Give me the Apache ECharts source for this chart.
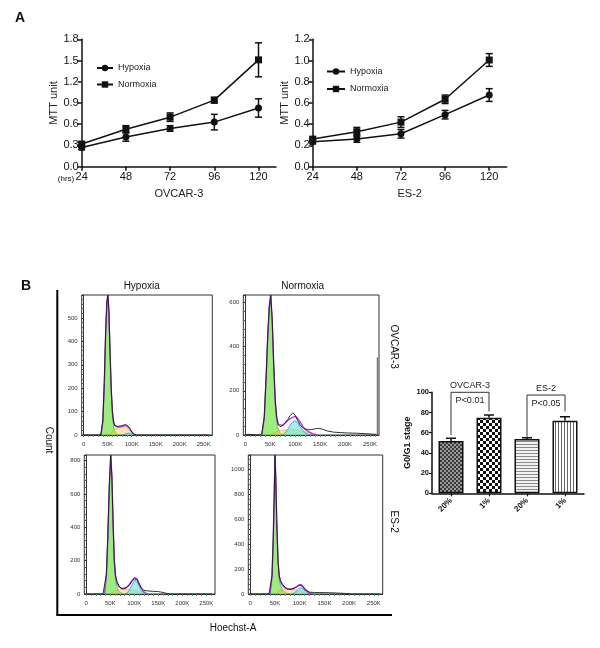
<!DOCTYPE html>
<html><head><meta charset="utf-8">
<script src="https://cdn.jsdelivr.net/npm/echarts@6/dist/echarts.min.js"></script>
<style>html,body{margin:0;padding:0;background:#fff}#c{width:600px;height:648px}</style>
</head><body><div id="c"></div>
<script>
// ---------- Panel A data ----------
const hours = [24, 48, 72, 96, 120];
const ovHypMean = [0.27, 0.42, 0.54, 0.63, 0.83];
const ovHypErr  = [0.03, 0.06, 0.04, 0.11, 0.13];
const ovNorMean = [0.32, 0.53, 0.70, 0.94, 1.51];
const ovNorErr  = [0.03, 0.05, 0.06, 0.04, 0.24];
const esHypMean = [0.235, 0.26, 0.31, 0.49, 0.675];
const esHypErr  = [0.02, 0.03, 0.04, 0.04, 0.06];
const esNorMean = [0.26, 0.33, 0.42, 0.635, 1.005];
const esNorErr  = [0.02, 0.04, 0.05, 0.04, 0.06];
const legendNames = ['Hypoxia', 'Normoxia'];

// ---------- Panel B histograms (Hoechst-A, count) ----------
const histTickLabels = [0, 50000, 100000, 150000, 200000, 250000];
// OVCAR-3 hypoxia
const tlData = [[0,0],[30000,0],[36000,3],[40000,60],[43000,220],[46000,450],[48500,570],[50500,598],[52500,540],[55000,360],[57500,200],[60000,100],[62500,55],[65000,40],[70000,37],[75000,38],[80000,40],[85000,44],[90000,43],[95000,32],[100000,14],[105000,4],[110000,0],[262000,0]];
const tlG1 = [[36000,0],[40000,55],[43000,215],[46000,445],[48500,565],[50500,596],[52500,530],[55000,350],[57500,185],[60000,85],[62500,38],[65000,15],[70000,3],[75000,0]];
const tlS = [[52000,0],[57000,8],[62000,18],[67000,26],[72000,31],[78000,34],[84000,34],[90000,30],[95000,22],[100000,10],[106000,0]];
const tlG2 = [[80000,0],[88000,5],[95000,8],[102000,4],[108000,0]];
const tlFit = [[36000,0],[40000,57],[43000,218],[46000,448],[48500,568],[50500,598],[52500,535],[55000,358],[57500,195],[60000,97],[62500,56],[65000,41],[70000,34],[75000,34],[80000,36],[85000,40],[90000,38],[95000,30],[100000,14],[106000,0]];
// OVCAR-3 normoxia
const trData = [[0,0],[5000,3],[15000,2],[28000,0],[33000,5],[38000,80],[42000,280],[45000,450],[48000,580],[51000,633],[54000,520],[57000,320],[60000,160],[63000,80],[66000,48],[70000,38],[75000,42],[80000,55],[85000,70],[90000,88],[95000,100],[100000,90],[105000,65],[110000,45],[115000,33],[120000,27],[125000,25],[130000,24],[140000,28],[147000,30],[155000,26],[165000,18],[177000,13],[190000,11],[205000,9],[223000,8],[240000,6],[255000,4],[263000,3]];
const trG1 = [[33000,0],[38000,75],[42000,270],[45000,440],[48000,570],[51000,625],[54000,510],[57000,305],[60000,140],[63000,60],[66000,25],[70000,8],[75000,0]];
const trS = [[50000,0],[58000,10],[65000,18],[75000,22],[85000,24],[95000,24],[105000,22],[115000,18],[125000,12],[135000,6],[145000,0]];
const trG2 = [[75000,0],[80000,10],[85000,25],[90000,45],[95000,60],[100000,65],[105000,55],[110000,38],[115000,22],[120000,10],[127000,3],[135000,0]];
const trFit = [[33000,0],[38000,77],[42000,272],[45000,445],[48000,575],[51000,633],[54000,515],[57000,315],[60000,152],[63000,75],[66000,47],[70000,40],[75000,44],[80000,54],[85000,65],[90000,74],[95000,80],[100000,84],[105000,75],[110000,58],[115000,40],[120000,25],[127000,15],[135000,6],[145000,0]];
const trSpike = [[265000,0],[265000,350]];
// ES-2 hypoxia
const blData = [[0,0],[35000,0],[39000,10],[42000,120],[45000,350],[48000,650],[51000,834],[53500,700],[56000,420],[58500,200],[61000,110],[64000,75],[68000,50],[72000,35],[76000,30],[80000,33],[85000,40],[90000,55],[95000,75],[100000,92],[103000,95],[106000,85],[110000,60],[115000,35],[120000,22],[130000,18],[140000,16],[148000,15],[155000,12],[162000,8],[168000,3],[175000,0],[262000,0]];
const blG1 = [[38000,0],[42000,110],[45000,340],[48000,640],[51000,825],[53500,690],[56000,400],[58500,180],[61000,85],[64000,40],[68000,15],[72000,5],[78000,0]];
const blS = [[50000,0],[56000,12],[62000,22],[70000,26],[80000,27],[90000,26],[100000,22],[110000,15],[118000,6],[125000,0]];
const blG2 = [[82000,0],[88000,15],[93000,40],[98000,70],[102000,85],[106000,75],[110000,50],[114000,25],[118000,10],[124000,0]];
const blFit = [[38000,0],[42000,112],[45000,343],[48000,645],[51000,834],[53500,700],[56000,415],[58500,195],[61000,105],[64000,65],[68000,42],[72000,32],[76000,30],[80000,33],[85000,42],[90000,58],[95000,80],[100000,98],[103000,100],[106000,90],[110000,63],[114000,38],[118000,18],[124000,5],[128000,0]];
// ES-2 normoxia
const brData = [[0,0],[38000,0],[41000,10],[44000,150],[46500,450],[48500,800],[50000,1117],[51500,950],[53500,600],[56000,280],[58500,150],[61000,110],[65000,80],[70000,55],[75000,42],[80000,38],[85000,40],[90000,48],[95000,60],[100000,72],[103000,73],[106000,60],[110000,38],[114000,22],[120000,15],[130000,12],[145000,11],[160000,10],[175000,8],[190000,5],[200000,2],[205000,0],[262000,0]];
const brG1 = [[40000,0],[44000,140],[46500,440],[48500,790],[50000,1100],[51500,930],[53500,580],[56000,260],[58500,120],[61000,70],[65000,35],[70000,15],[75000,5],[80000,0]];
const brS = [[50000,0],[56000,15],[62000,28],[70000,35],[80000,36],[90000,33],[100000,25],[108000,15],[115000,6],[122000,0]];
const brG2 = [[85000,0],[90000,12],[95000,30],[99000,48],[102000,55],[105000,48],[109000,30],[113000,15],[118000,5],[123000,0]];
const brFit = [[40000,0],[44000,142],[46500,445],[48500,795],[50000,1110],[51500,940],[53500,595],[56000,275],[58500,145],[61000,100],[65000,70],[70000,50],[75000,42],[80000,38],[85000,42],[90000,48],[95000,62],[100000,76],[102000,78],[105000,70],[109000,48],[113000,28],[118000,12],[124000,3],[128000,0]];

// ---------- Panel B bar chart ----------
const groups = ['20%', '1%', '20%', '1%'];
const g0g1 = [51.8, 74.9, 53.8, 71.9];
const g0g1Err = [2.7, 2.6, 1.2, 3.9];
const bracketTitles = ['OVCAR-3', 'ES-2'];
const pValues = ['P<0.01', 'P<0.05'];
const bracketData = [[0, 1, 100, 57.5, 81], [2, 3, 97.3, 56, 81]];

// ---------- helpers ----------
const FONT = '"Liberation Sans", Arial, sans-serif';
function errRender(params, api) {
  const x = api.value(0), lo = api.value(1), hi = api.value(2);
  const p1 = api.coord([x, lo]), p2 = api.coord([x, hi]);
  const w = 3.5, st = {stroke: '#111', lineWidth: 1.5};
  return {type: 'group', children: [
    {type: 'line', shape: {x1: p1[0], y1: p1[1], x2: p2[0], y2: p2[1]}, style: st},
    {type: 'line', shape: {x1: p1[0]-w, y1: p1[1], x2: p1[0]+w, y2: p1[1]}, style: st},
    {type: 'line', shape: {x1: p2[0]-w, y1: p2[1], x2: p2[0]+w, y2: p2[1]}, style: st}
  ]};
}
function barErrRender(params, api) {
  const x = api.value(0), lo = api.value(1), hi = api.value(2);
  const p1 = api.coord([x, lo]), p2 = api.coord([x, hi]);
  const w = 5, st = {stroke: '#111', lineWidth: 1.5};
  return {type: 'group', children: [
    {type: 'line', shape: {x1: p1[0], y1: p1[1], x2: p2[0], y2: p2[1]}, style: st},
    {type: 'line', shape: {x1: p2[0]-w, y1: p2[1], x2: p2[0]+w, y2: p2[1]}, style: st}
  ]};
}
function bracketRender(params, api) {
  const a = api.value(0), b = api.value(1), top = api.value(2), lb = api.value(3), rb = api.value(4);
  const pa = api.coord([a, top]), pb = api.coord([b, top]);
  const pal = api.coord([a, lb]), pbr = api.coord([b, rb]);
  const st = {stroke: '#333', lineWidth: 1};
  const cx = (pa[0] + pb[0]) / 2;
  return {type: 'group', children: [
    {type: 'polyline', shape: {points: [[pal[0], pal[1]], [pa[0], pa[1]], [pb[0], pb[1]], [pbr[0], pbr[1]]]}, style: Object.assign({fill: null}, st)},
    {type: 'text', x: cx, y: pa[1] - 2, style: {text: bracketTitles[params.dataIndex], textAlign: 'center', textVerticalAlign: 'bottom', font: '9px ' + FONT, fill: '#222'}},
    {type: 'text', x: cx, y: pa[1] + 4, style: {text: pValues[params.dataIndex], textAlign: 'center', textVerticalAlign: 'top', font: '9px ' + FONT, fill: '#222'}}
  ]};
}
function makePattern(kind) {
  const c = document.createElement('canvas');
  const ctx = c.getContext('2d');
  if (kind === 0) { c.width = 4; c.height = 4; ctx.fillStyle = '#9a9a9a'; ctx.fillRect(0,0,4,4); ctx.fillStyle = '#3a3a3a'; ctx.fillRect(0,0,2,2); ctx.fillRect(2,2,2,2); }
  else if (kind === 1) { c.width = 6; c.height = 6; ctx.fillStyle = '#fff'; ctx.fillRect(0,0,6,6); ctx.fillStyle = '#111'; ctx.fillRect(0,0,3,3); ctx.fillRect(3,3,3,3); }
  else if (kind === 2) { c.width = 3; c.height = 3; ctx.fillStyle = '#f2f2f2'; ctx.fillRect(0,0,3,3); ctx.fillStyle = '#8a8a8a'; ctx.fillRect(0,0,3,1); }
  else { c.width = 3; c.height = 3; ctx.fillStyle = '#fff'; ctx.fillRect(0,0,3,3); ctx.fillStyle = '#666'; ctx.fillRect(0,0,1,3); }
  return {image: c, repeat: 'repeat'};
}
const histTicks = [];
for (let v = 0; v <= 260000; v += 10000) histTicks.push(v);

function histX(gi) {
  return {type: 'value', gridIndex: gi, min: -4000, max: 268000,
    axisLine: {show: true, onZero: false, lineStyle: {color: '#333', width: 1}},
    axisTick: {show: true, customValues: histTicks, length: 2, lineStyle: {color: '#3a6'}},
    axisLabel: {customValues: histTickLabels, fontSize: 6, color: '#333', margin: 6, fontFamily: FONT,
      formatter: v => v === 0 ? '0' : (v / 1000) + 'K'},
    splitLine: {show: false}};
}
function histY(gi, max, interval) {
  return {type: 'value', gridIndex: gi, min: 0, max: max, interval: interval,
    axisLine: {show: true, lineStyle: {color: '#333', width: 1}},
    axisTick: {show: true, length: 2, lineStyle: {color: '#333'}},
    minorTick: {show: true, splitNumber: 5, length: 1.5, lineStyle: {color: '#555'}},
    axisLabel: {fontSize: 6, color: '#333', margin: 4, fontFamily: FONT, showMaxLabel: false, formatter: v => String(v)},
    splitLine: {show: false}};
}
function histSeries(gi, data, g1, s, g2, fit) {
  const base = {type: 'line', xAxisIndex: gi, yAxisIndex: gi, showSymbol: false, symbol: 'none', animation: false, silent: true};
  return [
    Object.assign({}, base, {data: g1, lineStyle: {width: 0.6, color: '#2f9a20'}, areaStyle: {color: 'rgba(100,225,50,0.9)'}, z: 2}),
    Object.assign({}, base, {data: s, lineStyle: {width: 0.5, color: '#c89a40'}, areaStyle: {color: 'rgba(240,190,80,0.6)'}, z: 3}),
    Object.assign({}, base, {data: g2, lineStyle: {width: 0.7, color: '#3a7ae0'}, areaStyle: {color: 'rgba(100,230,215,0.85)'}, z: 4}),
    Object.assign({}, base, {data: fit, lineStyle: {width: 1.4, color: '#b040e8'}, z: 5}),
    Object.assign({}, base, {data: data, lineStyle: {width: 0.9, color: '#1a1a1a'}, z: 6})
  ];
}
function aX(gi) {
  return {type: 'value', gridIndex: gi, min: 24, max: 129.5, interval: 24,
    name: gi === 0 ? 'OVCAR-3' : 'ES-2', nameLocation: 'middle', nameGap: 22,
    nameTextStyle: {fontSize: 11, color: '#222', fontFamily: FONT},
    axisLine: {show: true, onZero: false, lineStyle: {color: '#111', width: 1.5}},
    axisTick: {show: true, length: 4, lineStyle: {color: '#111', width: 1.5}},
    axisLabel: {fontSize: 11, color: '#111', margin: 5, fontFamily: FONT, showMaxLabel: false},
    splitLine: {show: false}};
}
function aY(gi, max, interval) {
  return {type: 'value', gridIndex: gi, min: 0, max: max, interval: interval,
    name: 'MTT unit', nameLocation: 'middle', nameGap: 19,
    nameTextStyle: {fontSize: 11, color: '#222', fontFamily: FONT},
    axisLine: {show: true, lineStyle: {color: '#111', width: 1.5}},
    axisTick: {show: true, length: 4, lineStyle: {color: '#111', width: 1.5}},
    axisLabel: {fontSize: 11, color: '#111', margin: 3, fontFamily: FONT, formatter: v => v.toFixed(1)},
    splitLine: {show: false}};
}
function aSeries(gi, hypM, hypE, norM, norE) {
  const common = {type: 'line', xAxisIndex: gi, yAxisIndex: gi, animation: false, symbolSize: 7,
    lineStyle: {color: '#111', width: 1.5}, itemStyle: {color: '#111'}};
  const err = (m, e) => hours.map((h, i) => [h, m[i] - e[i], m[i] + e[i]]);
  return [
    Object.assign({}, common, {name: 'Hypoxia', symbol: 'circle', data: hours.map((h, i) => [h, hypM[i]])}),
    Object.assign({}, common, {name: 'Normoxia', symbol: 'rect', data: hours.map((h, i) => [h, norM[i]])}),
    {type: 'custom', xAxisIndex: gi, yAxisIndex: gi, renderItem: errRender, data: err(hypM, hypE), encode: {x: 0, y: [1, 2]}, z: 3, animation: false},
    {type: 'custom', xAxisIndex: gi, yAxisIndex: gi, renderItem: errRender, data: err(norM, norE), encode: {x: 0, y: [1, 2]}, z: 3, animation: false}
  ];
}

const chart = echarts.init(document.getElementById('c'), null, {renderer: 'canvas'});
const textStyle = (t, x, y, size, opts) => Object.assign({type: 'text', x: x, y: y,
  style: {text: t, font: (opts && opts.bold ? 'bold ' : '') + size + 'px ' + FONT, fill: '#111', textAlign: 'center', textVerticalAlign: 'middle'}},
  opts && opts.rotation !== undefined ? {rotation: opts.rotation} : {});

const option = {
  animation: false,
  backgroundColor: '#fff',
  textStyle: {fontFamily: FONT},
  grid: [
    {left: 81.7, top: 39.3, width: 194.3, height: 127.4},
    {left: 312.7, top: 39.3, width: 194, height: 127.4},
    {left: 81.7, top: 295, width: 130.6, height: 140, show: true, borderColor: '#333', borderWidth: 1},
    {left: 243.3, top: 295, width: 135.7, height: 140, show: true, borderColor: '#333', borderWidth: 1},
    {left: 84.3, top: 455, width: 130.7, height: 139, show: true, borderColor: '#333', borderWidth: 1},
    {left: 248.3, top: 455, width: 134.4, height: 139, show: true, borderColor: '#333', borderWidth: 1},
    {left: 432, top: 392.3, width: 152, height: 101}
  ],
  legend: [
    {data: legendNames, left: 91, top: 58.5, orient: 'vertical', itemWidth: 16, itemHeight: 8, itemGap: 7.5,
      textStyle: {fontSize: 9, color: '#222', fontFamily: FONT}, selectedMode: false},
    {data: legendNames, left: 321, top: 62, orient: 'vertical', itemWidth: 18, itemHeight: 8, itemGap: 8.5,
      textStyle: {fontSize: 9, color: '#222', fontFamily: FONT}, selectedMode: false}
  ],
  xAxis: [aX(0), aX(1), histX(2), histX(3), histX(4), histX(5),
    {type: 'category', gridIndex: 6, data: groups,
      axisLine: {show: true, lineStyle: {color: '#111', width: 1.5}},
      axisTick: {show: true, alignWithLabel: true, length: 3, lineStyle: {color: '#111', width: 1.2}},
      axisLabel: {rotate: 45, fontSize: 8, fontWeight: 'bold', color: '#111', margin: 6, fontFamily: FONT}}],
  yAxis: [aY(0, 1.8, 0.3), aY(1, 1.2, 0.2), histY(2, 598, 100), histY(3, 633, 200), histY(4, 834, 200), histY(5, 1117, 200),
    {type: 'value', gridIndex: 6, min: 0, max: 100, interval: 20,
      name: 'G0/G1 stage', nameLocation: 'middle', nameGap: 20,
      nameTextStyle: {fontSize: 9, fontWeight: 'bold', color: '#111', fontFamily: FONT},
      axisLine: {show: true, lineStyle: {color: '#111', width: 1.5}},
      axisTick: {show: true, length: 3, lineStyle: {color: '#111', width: 1.2}},
      axisLabel: {fontSize: 7.5, fontWeight: 'bold', color: '#111', margin: 3, fontFamily: FONT},
      splitLine: {show: false}}],
  series: [].concat(
    aSeries(0, ovHypMean, ovHypErr, ovNorMean, ovNorErr),
    aSeries(1, esHypMean, esHypErr, esNorMean, esNorErr),
    histSeries(2, tlData, tlG1, tlS, tlG2, tlFit),
    histSeries(3, trData, trG1, trS, trG2, trFit),
    [{type: 'line', xAxisIndex: 3, yAxisIndex: 3, data: trSpike, showSymbol: false, symbol: 'none', lineStyle: {width: 1.5, color: '#777'}, z: 6}],
    histSeries(4, blData, blG1, blS, blG2, blFit),
    histSeries(5, brData, brG1, brS, brG2, brFit),
    [{type: 'bar', xAxisIndex: 6, yAxisIndex: 6, barWidth: 25,
      data: g0g1.map((v, i) => ({value: v, itemStyle: {color: makePattern(i), borderColor: '#111', borderWidth: 1.5}}))},
     {type: 'custom', xAxisIndex: 6, yAxisIndex: 6, renderItem: barErrRender, z: 1,
      data: g0g1.map((v, i) => [i, v, v + g0g1Err[i]]), encode: {x: 0, y: [1, 2]}},
     {type: 'custom', xAxisIndex: 6, yAxisIndex: 6, renderItem: bracketRender, z: 5,
      data: bracketData, encode: {x: [0, 1], y: [2, 3, 4]}}]
  ),
  graphic: [
    textStyle('A', 20, 18, 14, {bold: true}),
    textStyle('B', 26, 286, 14, {bold: true}),
    textStyle('(hrs)', 66, 178.5, 8),
    textStyle('Hypoxia', 141.7, 286.5, 10),
    textStyle('Normoxia', 302.7, 286.5, 10),
    textStyle('OVCAR-3', 393.5, 346.7, 10, {rotation: -Math.PI / 2}),
    textStyle('ES-2', 393.5, 521.7, 10, {rotation: -Math.PI / 2}),
    textStyle('Count', 49, 440, 10, {rotation: -Math.PI / 2}),
    textStyle('Hoechst-A', 233, 628, 10),
    {type: 'line', shape: {x1: 57.3, y1: 290, x2: 57.3, y2: 615}, style: {stroke: '#000', lineWidth: 2}},
    {type: 'line', shape: {x1: 56.3, y1: 615, x2: 392, y2: 615}, style: {stroke: '#000', lineWidth: 2}}
  ]
};
chart.setOption(option);
</script></body></html>
